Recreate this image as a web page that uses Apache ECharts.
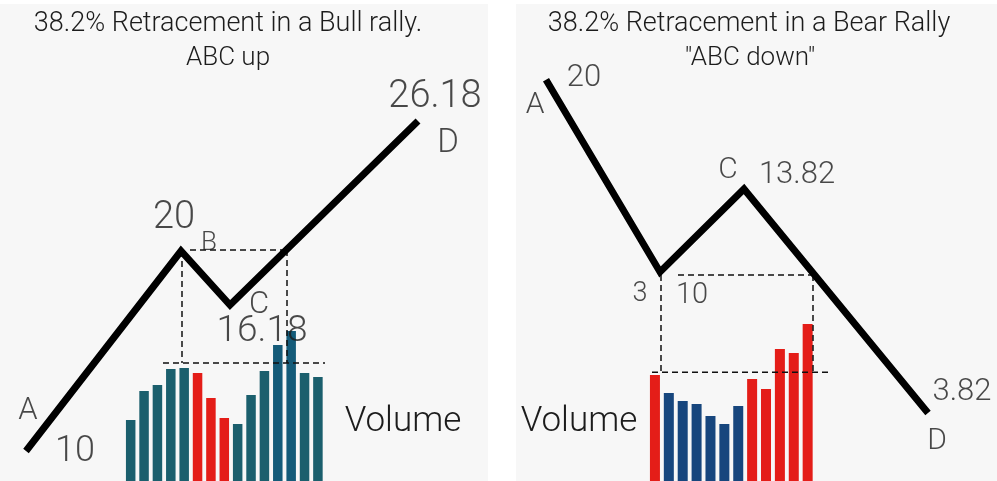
<!DOCTYPE html>
<html>
<head>
<meta charset="utf-8">
<style>
  html, body { margin: 0; padding: 0; background: #fff; }
  #container { width: 997px; height: 481px; }
</style>
</head>
<body>
<div id="container"></div>
<script src="https://cdn.jsdelivr.net/npm/echarts@6/dist/echarts.min.js"></script>
<script>
// ---- bull panel: A-B-C-D swing (time units, drawn level) ----
var bullTime    = [2.6, 18.1, 23.0, 41.8];
var bullLevel   = [10, 20, 17.3, 26.5];
var bullLetters = ['A', 'B', 'C', 'D'];
var bullPrices  = ['10', '20', '16.18', '26.18'];
var bullVolume  = [61, 90, 96, 112, 113, 108, 83, 63, 57, 86, 110, 136, 150, 108, 104];
var bullSide    = ['u', 'u', 'u', 'u', 'u', 'd', 'd', 'd', 'u', 'u', 'u', 'b', 'b', 'u', 'u'];
// dashed guide lines, [[t0, v0], [t1, v1]]
var bullGuides  = [
  [[19.0, 20.05], [28.7, 20.05]],
  [[18.2, 20.0], [18.2, 14.4]],
  [[28.7, 20.05], [28.7, 14.4]],
  [[16.3, 14.4], [32.5, 14.4]]
];

// ---- bear panel ----
var bearTime    = [4.6, 16.0, 24.4, 42.8];
var bearLevel   = [20, 10, 14.32, 2.66];
var bearLetters = ['A', '3', 'C', 'D'];
var bearPrices  = ['20', '10', '13.82', '3.82'];
var bearVolume  = [106, 88, 80, 77, 65, 57, 75, 102, 92, 132, 128, 157];
var bearSide    = ['d', 'n', 'n', 'n', 'n', 'n', 'n', 'd', 'd', 'd', 'd', 'd'];
var bearGuides  = [
  [[17.8, 9.84], [31.3, 9.84]],
  [[16.1, 9.84], [16.1, 4.78]],
  [[31.3, 9.84], [31.3, 4.78]],
  [[15.2, 4.78], [32.8, 4.78]]
];

// label layout (offsets in px from the point, font size)
var bullLetterStyle = [[2, -40, 31], [28, -8, 26], [29, 0, 31], [30, 23, 33]];
var bullPriceStyle  = [[49, 1, 36], [-7, -33, 38], [32, 27, 37], [17, -24, 38]];
var bearLetterStyle = [[-11, 26, 30], [-20, 22, 27], [-16, -18, 30], [9, 29, 30]];
var bearPriceStyle  = [[38, -2, 31], [32, 24, 29], [53, -14, 31], [34, -21, 31]];

var FONT = 'Roboto';
var INK = '#1c1c1c';
var sideColor = { u: '#1b5f6d', b: '#145b79', d: '#e41d18', n: '#17467d' };

var dom = document.getElementById('container');
var myChart = echarts.init(dom, null, { renderer: 'canvas' });

function pts(t, v) {
  return t.map(function (x, i) { return [x, v[i]]; });
}

function labelData(t, v, texts, styles) {
  return t.map(function (x, i) {
    return {
      value: [x, v[i]],
      label: {
        formatter: texts[i],
        offset: [styles[i][0], styles[i][1]],
        fontSize: styles[i][2]
      }
    };
  });
}

function labelSeries(grid, t, v, texts, styles) {
  return {
    type: 'scatter',
    xAxisIndex: grid, yAxisIndex: grid,
    symbolSize: 1,
    itemStyle: { color: 'rgba(0,0,0,0)' },
    silent: true,
    z: 6,
    label: {
      show: true, position: 'inside',
      color: INK, fontFamily: FONT, fontWeight: 300
    },
    data: labelData(t, v, texts, styles)
  };
}

function guideSeries(grid, guides) {
  return guides.map(function (g) {
    return {
      type: 'line',
      xAxisIndex: grid, yAxisIndex: grid,
      symbol: 'none', silent: true, z: 4,
      lineStyle: { color: '#111', width: 1.5, type: [6, 4] },
      data: g
    };
  });
}

function hiddenValue(min, max, gridIndex) {
  return { type: 'value', gridIndex: gridIndex, min: min, max: max, show: false, splitLine: { show: false } };
}

var series = [];
// volume bars
series.push({
  type: 'bar', xAxisIndex: 2, yAxisIndex: 2, barWidth: 9.5, silent: true, z: 2,
  data: bullVolume.map(function (v, i) { return { value: v, itemStyle: { color: sideColor[bullSide[i]] } }; })
});
series.push({
  type: 'bar', xAxisIndex: 3, yAxisIndex: 3, barWidth: 10, silent: true, z: 2,
  data: bearVolume.map(function (v, i) { return { value: v, itemStyle: { color: sideColor[bearSide[i]] } }; })
});
series = series.concat(guideSeries(0, bullGuides), guideSeries(1, bearGuides));
// swings
series.push({
  type: 'line', xAxisIndex: 0, yAxisIndex: 0, symbol: 'none', silent: true, z: 5,
  lineStyle: { color: '#000', width: 7, join: 'miter' },
  data: pts(bullTime, bullLevel)
});
series.push({
  type: 'line', xAxisIndex: 1, yAxisIndex: 1, symbol: 'none', silent: true, z: 5,
  lineStyle: { color: '#000', width: 7, join: 'miter' },
  data: pts(bearTime, bearLevel)
});
series.push(labelSeries(0, bullTime, bullLevel, bullLetters, bullLetterStyle));
series.push(labelSeries(0, bullTime, bullLevel, bullPrices, bullPriceStyle));
series.push(labelSeries(1, bearTime, bearLevel, bearLetters, bearLetterStyle));
series.push(labelSeries(1, bearTime, bearLevel, bearPrices, bearPriceStyle));

function txt(x, y, s, size) {
  return {
    type: 'text', x: x, y: y, z: 10, silent: true,
    style: {
      text: s, fill: INK, fontSize: size, fontFamily: FONT, fontWeight: 300,
      textAlign: 'center', textVerticalAlign: 'middle'
    }
  };
}

var option = {
  backgroundColor: '#ffffff',
  animation: false,
  graphic: [
    { type: 'rect', z: -10, silent: true, shape: { x: 0, y: 4, width: 488, height: 477 }, style: { fill: '#f7f7f7' } },
    { type: 'rect', z: -10, silent: true, shape: { x: 516, y: 4, width: 481, height: 477 }, style: { fill: '#f7f7f7' } },
    txt(228, 24, '38.2% Retracement in a Bull rally.', 27),
    txt(228, 58, 'ABC up', 26),
    txt(749, 24, '38.2% Retracement in a Bear Rally', 27),
    txt(750, 58, '"ABC down"', 26),
    txt(403, 422, 'Volume', 35),
    txt(579, 422, 'Volume', 35)
  ],
  grid: [
    { left: 0, width: 500, top: 11, bottom: 0 },
    { left: 500, width: 497, top: 3, height: 461 },
    { left: 124, width: 200.6, top: 281, bottom: 0 },
    { left: 648, width: 166.6, top: 281, bottom: 0 }
  ],
  xAxis: [
    hiddenValue(0, 50, 0),
    hiddenValue(0, 49.7, 1),
    { type: 'category', gridIndex: 2, show: false, data: bullVolume.map(function (v, i) { return i; }) },
    { type: 'category', gridIndex: 3, show: false, data: bearVolume.map(function (v, i) { return i; }) }
  ],
  yAxis: [
    hiddenValue(8.5, 32, 0),
    hiddenValue(0, 24, 1),
    hiddenValue(0, 200, 2),
    hiddenValue(0, 200, 3)
  ],
  series: series
};

myChart.setOption(option);
window.addEventListener('resize', myChart.resize);
</script>
</body>
</html>
